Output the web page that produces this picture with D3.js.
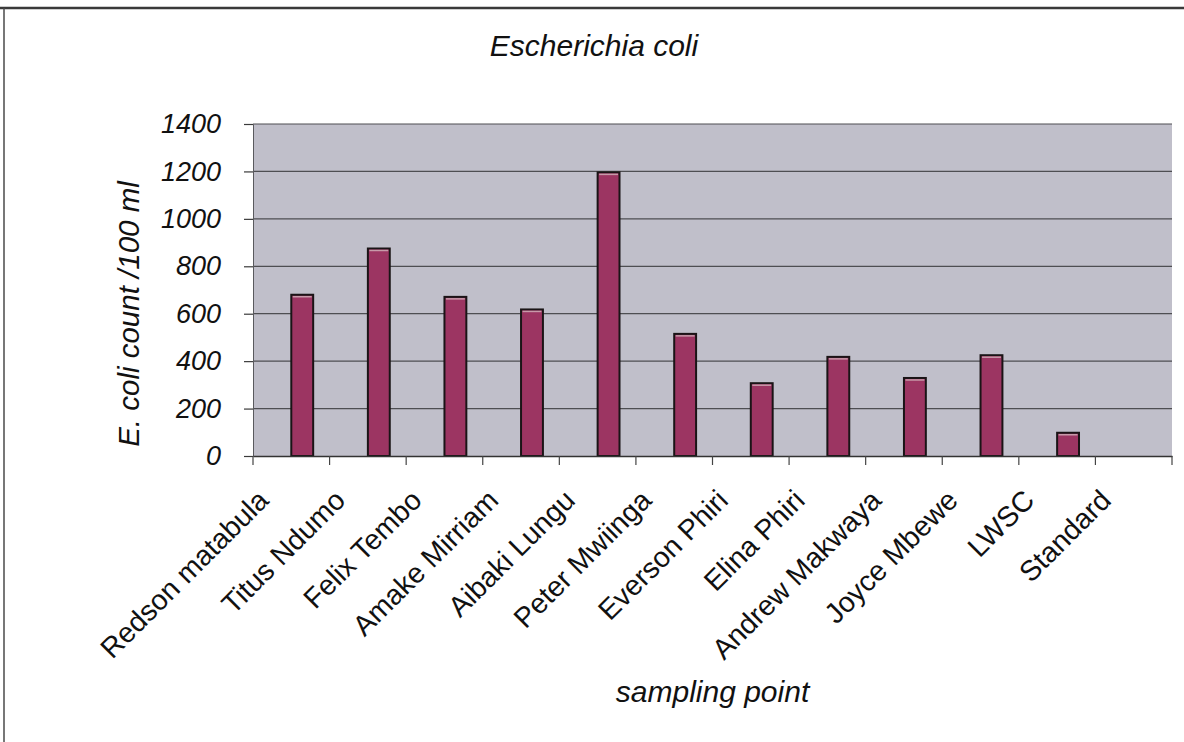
<!DOCTYPE html>
<html>
<head>
<meta charset="utf-8">
<script src="https://cdn.jsdelivr.net/npm/d3@7"></script>
<style>
  html, body { margin: 0; padding: 0; background: #ffffff; }
  svg { display: block; font-family: "Liberation Sans", Arial, sans-serif; }
</style>
</head>
<body>
<svg id="chart" width="1184" height="742"></svg>
<script>
// Sampling points along the x axis
const samplingPoints = [
  "Redson matabula", "Titus Ndumo", "Felix Tembo", "Amake Mirriam",
  "Aibaki Lungu", "Peter Mwiinga", "Everson Phiri", "Elina Phiri",
  "Andrew Makwaya", "Joyce Mbewe", "LWSC", "Standard"
];
// E. coli count per 100 ml at each sampling point
const ecoliCounts = [680, 875, 671, 618, 1196, 515, 307, 418, 329, 425, 98, 0];
// Value axis ticks
const yTicks = [0, 200, 400, 600, 800, 1000, 1200, 1400];
// Each category keeps two bar slots; only the second one holds the counts
const barSlots = ["empty", "count"];

const titleText = "Escherichia coli";
const yTitleText = "E. coli count /100 ml";
const xTitleText = "sampling point";

const svg = d3.select("#chart");
const W = 1184, H = 742;
const plot = { left: 253, right: 1172, top: 124, bottom: 456 };

const data = samplingPoints.map((name, i) => ({ name, value: ecoliCounts[i] }));

const x = d3.scaleBand()
  .domain(samplingPoints)
  .range([plot.left, plot.right])
  .padding(0);

const slot = d3.scaleBand()
  .domain(barSlots)
  .range([0, x.bandwidth()])
  .paddingInner(0)
  .paddingOuter(0.75);

const y = d3.scaleLinear()
  .domain([0, 1400])
  .range([plot.bottom, plot.top]);

// Outer chart frame (top and left edges)
svg.append("line")
  .attr("x1", 0).attr("x2", W).attr("y1", 8).attr("y2", 8)
  .attr("stroke", "#3a3a3a").attr("stroke-width", 2.5);
svg.append("line")
  .attr("x1", 4).attr("x2", 4).attr("y1", 8).attr("y2", H)
  .attr("stroke", "#4a4a4a").attr("stroke-width", 1.5);

// Plot background
svg.append("rect")
  .attr("x", plot.left).attr("y", plot.top)
  .attr("width", plot.right - plot.left).attr("height", plot.bottom - plot.top)
  .attr("fill", "#c0bfca");

// Horizontal gridlines
svg.append("g")
  .selectAll("line")
  .data(yTicks.filter(t => t > 0))
  .join("line")
  .attr("x1", plot.left).attr("x2", plot.right)
  .attr("y1", d => y(d)).attr("y2", d => y(d))
  .attr("stroke", "#4e4e52").attr("stroke-width", 1.2);

// Y axis
const yAxis = svg.append("g")
  .attr("transform", `translate(${plot.left},0)`)
  .call(d3.axisLeft(y).tickValues(yTicks).tickSize(9).tickPadding(23).tickFormat(d3.format("d")));
yAxis.select(".domain").attr("stroke", "#5a5a5e").attr("stroke-width", 1);
yAxis.selectAll(".tick line").attr("stroke", "#3a3a3a").attr("stroke-width", 1.2);
yAxis.selectAll(".tick text")
  .attr("font-size", 27).attr("font-style", "italic").attr("fill", "#111")
  .attr("font-family", "'Liberation Sans', Arial, sans-serif");

// Bars
const bars = svg.append("g").selectAll("g")
  .data(data)
  .join("g")
  .attr("transform", d => `translate(${x(d.name) + slot("count")},0)`);

bars.append("rect")
  .attr("x", 0)
  .attr("y", d => y(d.value))
  .attr("width", slot.bandwidth())
  .attr("height", d => y(0) - y(d.value))
  .attr("fill", "#9c3562")
  .attr("stroke", "#1a1416")
  .attr("stroke-width", 2);

// Light edge just below each bar top
bars.filter(d => d.value > 0).append("line")
  .attr("x1", 1.5).attr("x2", slot.bandwidth() - 1.5)
  .attr("y1", d => y(d.value) + 2).attr("y2", d => y(d.value) + 2)
  .attr("stroke", "#c79aa9").attr("stroke-width", 1.5);

// X axis
const xAxis = svg.append("g")
  .attr("transform", `translate(0,${plot.bottom})`)
  .call(d3.axisBottom(x).tickSize(0).tickFormat(""));
xAxis.select(".domain").attr("stroke", "#333").attr("stroke-width", 1.4);
xAxis.selectAll(".tick").remove();

// Category boundary tick marks
svg.append("g")
  .selectAll("line")
  .data(samplingPoints.concat([null]))
  .join("line")
  .attr("x1", (d, i) => i < samplingPoints.length ? x(d) : plot.right)
  .attr("x2", (d, i) => i < samplingPoints.length ? x(d) : plot.right)
  .attr("y1", plot.bottom).attr("y2", plot.bottom + 9)
  .attr("stroke", "#444").attr("stroke-width", 1.2);

// Rotated category labels
svg.append("g")
  .selectAll("text")
  .data(samplingPoints)
  .join("text")
  .attr("transform", d => `translate(${x(d) + x.bandwidth() / 2 - 21},${plot.bottom + 46}) rotate(-45)`)
  .attr("text-anchor", "end")
  .attr("font-size", 28.5)
  .attr("fill", "#111")
  .text(d => d);

// Title
svg.append("text")
  .attr("x", 594).attr("y", 56)
  .attr("text-anchor", "middle")
  .attr("font-size", 30).attr("font-style", "italic").attr("fill", "#111")
  .text(titleText);

// Y axis title
svg.append("text")
  .attr("transform", `translate(139,${(plot.top + plot.bottom) / 2 + 24}) rotate(-90)`)
  .attr("text-anchor", "middle")
  .attr("font-size", 29.5).attr("font-style", "italic").attr("fill", "#111")
  .text(yTitleText);

// X axis title
svg.append("text")
  .attr("x", (plot.left + plot.right) / 2).attr("y", 702)
  .attr("text-anchor", "middle")
  .attr("font-size", 30).attr("font-style", "italic").attr("fill", "#111")
  .text(xTitleText);
</script>
</body>
</html>
